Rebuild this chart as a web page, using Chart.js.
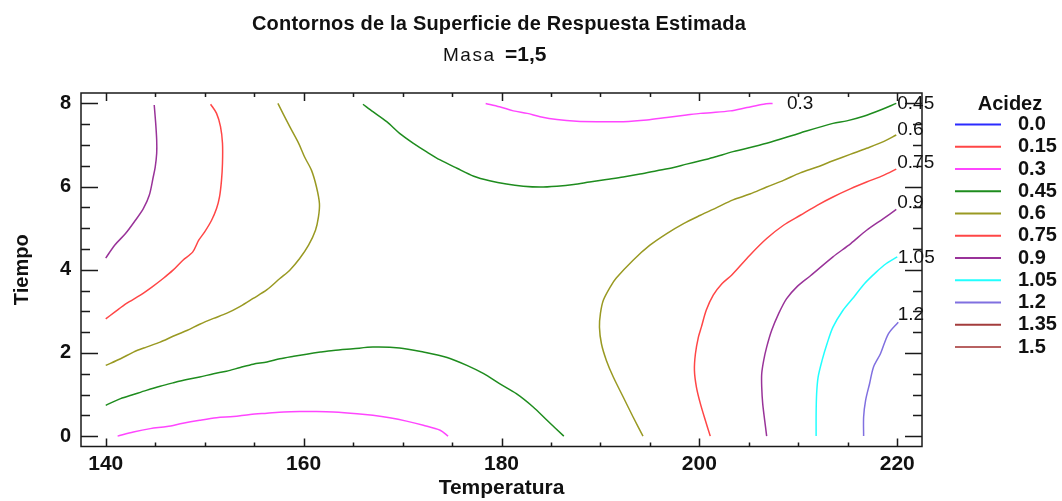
<!DOCTYPE html>
<html>
<head>
<meta charset="utf-8">
<title>Contornos de la Superficie de Respuesta Estimada</title>
<script src="https://cdn.jsdelivr.net/npm/chart.js@4/dist/chart.umd.min.js"></script>
<style>
  html, body { margin: 0; padding: 0; background: #fff; }
  #wrap { width: 1062px; height: 501px; }
</style>
</head>
<body>
<div id="wrap"><canvas id="contourChart" width="1062" height="501"></canvas></div>
<script>
const FONT = "'Liberation Sans', Arial, Helvetica, sans-serif";

// contour levels shown in the legend
const levels = ["0.0", "0.15", "0.3", "0.45", "0.6", "0.75", "0.9", "1.05", "1.2", "1.35", "1.5"];
const levelColors = ["#2b2bff", "#ff4646", "#ff46ff", "#1e8c1e", "#999922", "#ff4646",
                     "#993399", "#22ffff", "#8070e0", "#a33c3c", "#b86262"];

// contour lines, points as [temperatura, tiempo]
const c030a = [[141.2,0],[142.8,0.10],[144.5,0.18],[146.2,0.23],[147.8,0.31],[149.5,0.38],[151.2,0.44],
  [152.9,0.47],[154.6,0.52],[156.3,0.55],[158.0,0.58],[159.6,0.59],[161.3,0.59],[163.0,0.58],[165.4,0.54],
  [167.0,0.50],[168.7,0.44],[170.4,0.36],[172.1,0.26],[173.8,0.14],[174.6,0]];
const c030b = [[178.4,8.0],[179.8,7.92],[181.2,7.82],[182.6,7.76],[183.9,7.68],[185.6,7.61],[187.6,7.57],
  [190.0,7.56],[192.3,7.56],[194.7,7.60],[196.7,7.66],[198.7,7.72],[200.1,7.76],[201.4,7.78],[203.1,7.82],
  [204.8,7.90],[206.5,7.98],[207.4,8.0]];
const c045a = [[140.0,0.74],[141.5,0.90],[142.8,1.00],[144.1,1.10],[145.5,1.20],[146.8,1.28],[148.2,1.36],
  [149.5,1.42],[150.9,1.50],[152.2,1.56],[153.6,1.65],[154.9,1.73],[156.3,1.78],[157.6,1.86],[159.0,1.92],
  [160.3,1.97],[161.7,2.02],[163.0,2.06],[165.0,2.10],[167.0,2.14],[169.7,2.12],[172.1,2.02],[174.5,1.89],
  [176.5,1.70],[178.2,1.50],[179.8,1.26],[181.5,1.02],[183.2,0.70],[184.6,0.38],[186.3,0]];
const c045b = [[166.0,7.98],[167.0,7.80],[168.4,7.56],[169.7,7.28],[171.1,7.04],[172.4,6.84],[173.8,6.64],
  [175.5,6.44],[177.2,6.25],[178.8,6.14],[180.5,6.06],[182.2,6.01],[183.9,5.99],[185.6,6.01],[187.3,6.05],
  [188.9,6.11],[190.6,6.17],[192.3,6.23],[194.0,6.30],[195.7,6.38],[197.4,6.46],[198.7,6.54],[200.1,6.62],
  [201.4,6.70],[203.4,6.84],[206.8,7.04],[210.2,7.29],[213.5,7.52],[214.9,7.58],[216.6,7.69],[218.3,7.84],
  [219.9,8.0]];
const c060a = [[140.0,1.70],[141.5,1.86],[142.8,2.02],[144.1,2.14],[145.5,2.26],[146.8,2.40],[148.2,2.54],
  [149.5,2.69],[150.9,2.83],[152.2,2.95],[153.6,3.12],[154.9,3.31],[156.3,3.52],[157.6,3.79],[158.6,3.99],
  [159.6,4.27],[160.5,4.59],[161.2,4.95],[161.5,5.27],[161.6,5.59],[161.3,5.99],[160.8,6.39],[160.1,6.71],
  [159.5,7.04],[158.6,7.44],[157.4,8.0]];
const c060b = [[194.3,0],[193.3,0.46],[192.3,0.94],[191.3,1.42],[190.6,1.82],[190.1,2.22],[189.9,2.62],
  [190.0,2.95],[190.3,3.27],[191.0,3.59],[191.6,3.80],[193.3,4.23],[195.0,4.59],[196.7,4.87],[198.4,5.11],
  [200.1,5.31],[201.8,5.50],[203.4,5.68],[205.1,5.82],[206.8,5.99],[208.5,6.15],[210.2,6.33],[211.9,6.47],
  [213.5,6.62],[215.3,6.78],[216.9,6.92],[218.6,7.08],[219.9,7.24]];
const c075a = [[140.0,2.82],[140.9,2.98],[142.1,3.19],[143.5,3.39],[144.7,3.59],[145.8,3.79],[146.8,3.99],
  [147.8,4.23],[148.8,4.43],[149.4,4.71],[150.0,4.91],[150.7,5.19],[151.2,5.47],[151.5,5.75],[151.7,6.15],
  [151.8,6.56],[151.8,7.04],[151.6,7.44],[151.2,7.76],[150.6,7.98]];
const c075b = [[201.1,0],[200.6,0.38],[200.1,0.78],[199.7,1.18],[199.5,1.58],[199.6,1.98],[199.9,2.38],
  [200.2,2.62],[200.7,3.03],[201.4,3.39],[202.3,3.67],[203.3,3.88],[205.1,4.35],[206.8,4.75],[208.5,5.07],
  [210.2,5.31],[211.9,5.55],[213.5,5.75],[215.3,5.95],[216.9,6.11],[218.6,6.27],[219.9,6.42]];
const c090a = [[140.0,4.28],[140.9,4.59],[142.0,4.87],[143.0,5.19],[143.8,5.47],[144.4,5.79],[144.8,6.23],
  [145.0,6.47],[145.15,6.80],[145.15,7.12],[145.05,7.52],[144.9,7.96]];
const c090b = [[206.8,0],[206.6,0.38],[206.4,0.78],[206.3,1.18],[206.3,1.50],[206.5,1.82],[206.8,2.14],
  [207.3,2.54],[208.0,2.94],[208.8,3.30],[209.9,3.60],[211.2,3.85],[213.5,4.31],[215.3,4.63],[216.9,4.95],
  [218.6,5.23],[219.9,5.45]];
const c105 = [[211.8,0],[211.8,0.54],[211.85,1.02],[212.0,1.42],[212.4,1.82],[212.9,2.22],[213.5,2.62],
  [214.5,3.02],[215.6,3.34],[216.7,3.67],[217.9,3.95],[218.9,4.15],[220.0,4.31]];
const c120 = [[216.6,0],[216.6,0.46],[216.8,0.86],[217.2,1.26],[217.6,1.66],[218.3,1.98],[219.1,2.46],[220.1,2.74]];

// which level each line belongs to
const contourLines = [c030a, c030b, c045a, c045b, c060a, c060b, c075a, c075b, c090a, c090b, c105, c120];
const contourLevels = ["0.3", "0.3", "0.45", "0.45", "0.6", "0.6", "0.75", "0.75", "0.9", "0.9", "1.05", "1.2"];

// level labels written at the line ends
const labelText = ["0.3", "0.45", "0.6", "0.75", "0.9", "1.05", "1.2"];
const labelTemp = [208.85, 220, 220, 220, 220, 220.05, 220.05];
const labelTiempo = [8.0, 8.0, 7.36, 6.57, 5.60, 4.29, 2.91];

const xTicks = [140, 160, 180, 200, 220];
const yTicks = [0, 2, 4, 6, 8];

const datasets = contourLines.map(function(line, i) {
  const color = levelColors[levels.indexOf(contourLevels[i])];
  return {
    label: contourLevels[i],
    data: line.map(function(p) { return {x: p[0], y: p[1]}; }),
    borderColor: color,
    backgroundColor: color,
    borderWidth: 1.5,
    pointRadius: 0,
    showLine: true,
    tension: 0.3,
    fill: false
  };
});

Chart.defaults.font.family = FONT;

// frame, inside tick marks, titles, level labels and legend
const decorations = {
  id: "decorations",
  afterDraw: function(chart) {
    const ctx = chart.ctx;
    const area = chart.chartArea;
    const xs = chart.scales.x;
    const ys = chart.scales.y;
    ctx.save();

    // level labels
    ctx.fillStyle = "#111";
    ctx.font = "19px " + FONT;
    ctx.textAlign = "left";
    ctx.textBaseline = "middle";
    labelText.forEach(function(t, i) {
      ctx.fillText(t, xs.getPixelForValue(labelTemp[i]), ys.getPixelForValue(labelTiempo[i]));
    });

    // frame
    ctx.strokeStyle = "#1a1a1a";
    ctx.lineWidth = 1.5;
    ctx.strokeRect(area.left, area.top, area.right - area.left, area.bottom - area.top);

    // tick marks pointing inwards
    ctx.lineWidth = 1.5;
    ctx.beginPath();
    for (let v = 140; v <= 220; v += 5) {
      const px = Math.round(xs.getPixelForValue(v)) + 0.5;
      const len = v % 20 === 0 ? 8 : 4;
      ctx.moveTo(px, area.bottom); ctx.lineTo(px, area.bottom - len);
      ctx.moveTo(px, area.top); ctx.lineTo(px, area.top + len);
    }
    for (let v = 0; v <= 8; v += 0.5) {
      const py = Math.round(ys.getPixelForValue(v)) + 0.5;
      const len = v % 2 === 0 ? 17 : 9;
      ctx.moveTo(area.left, py); ctx.lineTo(area.left + len, py);
      ctx.moveTo(area.right, py); ctx.lineTo(area.right - len, py);
    }
    ctx.stroke();

    // title and subtitle
    ctx.fillStyle = "#111";
    ctx.textAlign = "center";
    ctx.textBaseline = "alphabetic";
    ctx.font = "bold 20px " + FONT;
    ctx.letterSpacing = "0.2px";
    ctx.fillText("Contornos de la Superficie de Respuesta Estimada", 499, 30);
    ctx.textAlign = "left";
    ctx.font = "19px " + FONT;
    ctx.letterSpacing = "1.5px";
    ctx.fillText("Masa", 443, 61);
    ctx.letterSpacing = "0px";
    ctx.font = "bold 21px " + FONT;
    ctx.fillText("=1,5", 505, 61);

    // legend
    ctx.textAlign = "center";
    ctx.textBaseline = "middle";
    ctx.font = "bold 20px " + FONT;
    ctx.fillText("Acidez", 1010, 104);
    ctx.textAlign = "left";
    levels.forEach(function(lv, i) {
      const y = 124.5 + i * 22.25;
      ctx.strokeStyle = levelColors[i];
      ctx.lineWidth = 2;
      ctx.beginPath();
      ctx.moveTo(955, y);
      ctx.lineTo(1001, y);
      ctx.stroke();
      ctx.fillStyle = "#111";
      ctx.fillText(lv, 1018, y);
    });

    ctx.restore();
  }
};

new Chart(document.getElementById("contourChart"), {
  type: "scatter",
  data: { datasets: datasets },
  options: {
    responsive: false,
    animation: false,
    layout: { padding: { left: 0, top: 93, right: 140, bottom: 0 } },
    plugins: {
      legend: { display: false },
      tooltip: { enabled: false },
      title: { display: false }
    },
    scales: {
      x: {
        type: "linear",
        min: 137.5,
        max: 222.5,
        grid: { display: false, drawTicks: false },
        border: { display: false },
        ticks: {
          color: "#111",
          font: { size: 21, weight: "bold" },
          padding: 5.5,
          maxRotation: 0,
          autoSkip: false
        },
        afterBuildTicks: function(s) { s.ticks = xTicks.map(function(v) { return {value: v}; }); },
        afterFit: function(s) { s.height = 54.5; },
        title: {
          display: true,
          text: "Temperatura",
          color: "#111",
          font: { size: 21, weight: "bold" },
          padding: { top: 0, bottom: 0 }
        }
      },
      y: {
        type: "linear",
        min: -0.25,
        max: 8.25,
        grid: { display: false, drawTicks: false },
        border: { display: false },
        ticks: {
          color: "#111",
          font: { size: 20, weight: "bold" },
          padding: 10,
          autoSkip: false
        },
        afterBuildTicks: function(s) { s.ticks = yTicks.map(function(v) { return {value: v}; }); },
        afterFit: function(s) { s.width = 81; },
        title: {
          display: true,
          text: "Tiempo",
          color: "#111",
          font: { size: 20, weight: "bold" },
          padding: { top: 10, bottom: 0 }
        }
      }
    }
  },
  plugins: [decorations]
});
</script>
</body>
</html>
